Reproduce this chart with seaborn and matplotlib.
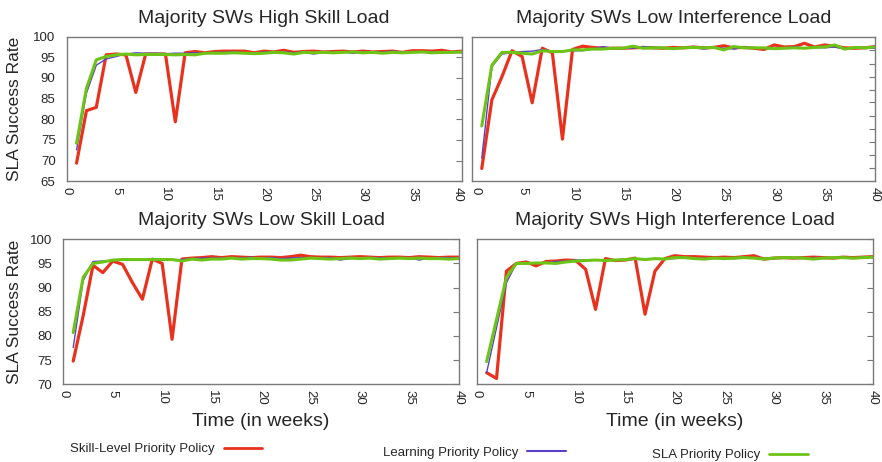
import numpy as np
import matplotlib
matplotlib.use("Agg")
import matplotlib.pyplot as plt
import matplotlib.transforms as mtransforms
import seaborn as sns
from matplotlib.lines import Line2D

# Weekly SLA success rate for the three policies in four load scenarios
weeks = list(range(1, 41))

titles = ['Majority SWs High Skill Load', 'Majority SWs Low Interference Load',
          'Majority SWs Low Skill Load', 'Majority SWs High Interference Load']
policies = ['Skill-Level Priority Policy', 'Learning Priority Policy', 'SLA Priority Policy']

high_skill_red = [69.4, 82.1, 82.9, 95.6, 95.8, 95.6, 86.5, 95.8, 95.8, 95.8,
                  79.4, 96.1, 96.4, 96.1, 96.4, 96.5, 96.5, 96.5, 96.1, 96.5,
                  96.3, 96.7, 96.2, 96.4, 96.5, 96.3, 96.4, 96.5, 96.3, 96.5,
                  96.3, 96.4, 96.5, 96.2, 96.6, 96.6, 96.5, 96.7, 96.3, 96.5]
high_skill_blue = [72.6, 86.3, 93.1, 94.6, 95.2, 95.8, 96.1, 96.0, 96.0, 95.9,
                   96.0, 96.0, 96.1, 96.0, 96.2, 96.2, 96.3, 96.1, 96.0, 96.3,
                   96.2, 96.3, 96.1, 96.3, 95.8, 96.2, 96.2, 96.3, 96.0, 96.3,
                   96.3, 96.2, 96.5, 96.2, 96.3, 96.2, 96.4, 96.0, 96.3, 96.1]
high_skill_green = [74.2, 87.5, 94.4, 95.2, 95.6, 95.8, 95.6, 95.7, 95.7, 95.7,
                    95.6, 95.7, 95.6, 96.0, 96.0, 96.0, 96.1, 96.0, 95.9, 96.0,
                    96.2, 96.1, 95.8, 96.2, 96.1, 96.2, 96.1, 96.2, 96.3, 96.1,
                    96.2, 96.0, 96.2, 96.1, 96.2, 96.3, 96.1, 96.2, 96.2, 96.3]

low_interf_red = [68.1, 84.7, 90.3, 96.6, 95.2, 84.0, 97.2, 96.1, 75.2, 96.9,
                  97.7, 97.4, 97.2, 97.2, 97.2, 97.3, 97.4, 97.3, 97.2, 97.4,
                  97.3, 97.5, 97.3, 97.4, 97.8, 97.3, 97.4, 97.2, 96.9, 98.0,
                  97.5, 97.6, 98.4, 97.5, 98.0, 97.7, 97.3, 97.2, 97.3, 97.6]
low_interf_blue = [70.6, 92.7, 95.8, 96.1, 96.4, 96.5, 96.9, 96.5, 96.5, 96.6,
                   96.6, 97.0, 97.6, 97.2, 97.2, 97.2, 97.6, 97.4, 97.3, 97.2,
                   97.3, 97.4, 97.0, 97.3, 97.2, 97.0, 97.5, 97.3, 97.2, 97.0,
                   97.2, 97.5, 97.3, 97.4, 97.3, 97.5, 97.0, 97.4, 97.2, 97.2]
low_interf_green = [78.4, 93.1, 96.2, 96.2, 96.0, 95.8, 96.6, 96.4, 96.4, 96.8,
                    96.8, 97.0, 97.0, 97.2, 97.2, 97.7, 97.2, 97.3, 97.3, 97.1,
                    97.3, 97.4, 97.3, 97.4, 96.8, 97.6, 97.3, 97.3, 97.3, 97.1,
                    97.2, 97.3, 97.2, 97.4, 97.5, 98.0, 97.0, 97.4, 97.3, 97.5]

low_skill_red = [74.8, 84.1, 94.6, 93.1, 95.5, 94.8, 91.0, 87.6, 95.9, 95.0,
                 79.3, 95.9, 96.1, 96.2, 96.4, 96.2, 96.4, 96.3, 96.2, 96.3,
                 96.3, 96.2, 96.4, 96.7, 96.4, 96.3, 96.3, 96.2, 96.3, 96.4,
                 96.3, 96.2, 96.3, 96.3, 96.2, 96.4, 96.3, 96.2, 96.3, 96.3]
low_skill_blue = [77.6, 91.4, 95.4, 95.5, 95.6, 95.9, 95.7, 95.7, 95.8, 95.9,
                  95.8, 95.8, 96.0, 96.1, 96.1, 96.1, 96.2, 96.1, 96.3, 96.0,
                  96.2, 96.0, 96.1, 96.2, 96.2, 96.1, 96.2, 95.7, 96.0, 96.2,
                  96.1, 96.2, 96.1, 96.2, 96.2, 95.7, 96.1, 96.2, 96.2, 96.1]
low_skill_green = [80.7, 92.1, 95.0, 95.3, 95.7, 95.8, 95.8, 95.8, 95.8, 95.8,
                   95.8, 95.5, 95.9, 95.7, 95.9, 95.9, 96.1, 95.9, 96.0, 96.0,
                   95.9, 95.7, 95.7, 95.9, 96.1, 96.0, 95.9, 96.0, 96.1, 96.0,
                   96.1, 95.9, 96.0, 96.1, 96.0, 96.1, 96.0, 96.0, 95.9, 96.0]

high_interf_red = [72.4, 71.2, 93.4, 95.0, 95.3, 94.5, 95.4, 95.5, 95.7, 95.6,
                   93.8, 85.5, 96.0, 95.6, 95.7, 96.1, 84.5, 93.4, 96.0, 96.6,
                   96.4, 96.4, 96.3, 96.2, 96.3, 96.2, 96.4, 96.6, 95.9, 96.1,
                   96.2, 96.1, 96.2, 96.3, 96.2, 96.1, 96.3, 96.2, 96.3, 96.4]
high_interf_blue = [72.4, 81.7, 91.0, 95.0, 95.0, 95.1, 95.1, 95.4, 95.5, 95.7,
                    95.7, 95.7, 95.7, 95.7, 95.7, 95.9, 95.8, 95.9, 95.9, 96.0,
                    96.2, 96.1, 96.0, 96.1, 96.1, 96.0, 96.2, 96.1, 96.0, 96.1,
                    96.2, 96.1, 96.2, 96.1, 96.2, 96.1, 96.2, 96.1, 96.3, 96.3]
high_interf_green = [74.7, 83.4, 92.1, 95.0, 95.0, 95.1, 95.1, 95.0, 95.3, 95.5,
                     95.6, 95.7, 95.6, 95.7, 95.8, 96.0, 95.8, 96.0, 95.9, 96.2,
                     96.2, 96.0, 95.9, 96.1, 96.0, 96.1, 96.2, 96.1, 95.9, 96.1,
                     96.2, 96.2, 96.1, 95.9, 96.1, 96.2, 96.2, 96.1, 96.2, 96.3]

panels = [
    (high_skill_red, high_skill_blue, high_skill_green),
    (low_interf_red, low_interf_blue, low_interf_green),
    (low_skill_red, low_skill_blue, low_skill_green),
    (high_interf_red, high_interf_blue, high_interf_green),
]

colors = ['#e8321e', '#5b3fc4', '#6cc417']
widths = [2.3, 1.0, 2.2]

sns.set_style('white')
plt.rcParams['font.family'] = ['Liberation Sans', 'DejaVu Sans']

fig = plt.figure(figsize=(8.82, 4.62), dpi=100)

# axes rectangles in figure fractions
rects = [
    [0.0756, 0.6076, 0.4478, 0.3130],
    [0.5348, 0.6076, 0.4573, 0.3130],
    [0.0718, 0.1682, 0.4483, 0.3139],
    [0.5405, 0.1682, 0.4490, 0.3139],
]

axes = []
for i, (rect, data) in enumerate(zip(rects, panels)):
    ax = fig.add_axes(rect)
    for k in range(3):
        sns.lineplot(x=weeks, y=data[k], ax=ax, color=colors[k],
                     linewidth=widths[k], legend=False)
    ax.set_xlim(0, 40)
    ax.set_xticks(range(0, 41, 5))
    ax.set_xticklabels([str(t) for t in range(0, 41, 5)], rotation=-90, fontsize=8)
    ax.set_title(titles[i], fontsize=14, pad=10)
    ax.tick_params(direction='in', length=4, color='#777777', right=True,
                   labelsize=9.5)
    ax.tick_params(axis='y', pad=8)
    ax.tick_params(axis='x', length=2, pad=4)
    for s in ax.spines.values():
        s.set_color('#7a7a7a')
        s.set_linewidth(1.0)
    axes.append(ax)

# nudge the touching "40" / "0" labels between the top panels apart
left_shift = mtransforms.ScaledTranslation(-3 / 72, 0, fig.dpi_scale_trans)
right_shift = mtransforms.ScaledTranslation(3 / 72, 0, fig.dpi_scale_trans)
last = axes[0].get_xticklabels()[-1]
last.set_transform(last.get_transform() + left_shift)
first = axes[1].get_xticklabels()[0]
first.set_transform(first.get_transform() + right_shift)

# y ranges / ticks
axes[0].set_ylim(65, 100)
axes[0].set_yticks(range(65, 101, 5))
axes[1].set_ylim(65, 100)
axes[1].set_yticks([68.1, 71.4, 74.6, 77.7, 80.9, 84.1, 87.2, 90.3, 93.5, 96.8])
axes[1].set_yticklabels([])
axes[2].set_ylim(70, 100)
axes[2].set_yticks(range(70, 101, 5))
axes[3].set_ylim(70, 100)
axes[3].set_yticks(range(70, 101, 5))
axes[3].set_yticklabels([])

for ax in (axes[0], axes[2]):
    ax.set_ylabel('SLA Success Rate', fontsize=12.5)
axes[0].yaxis.set_label_coords(-0.112, 0.5)
axes[2].yaxis.set_label_coords(-0.104, 0.5)

for ax in (axes[2], axes[3]):
    ax.set_xlabel('Time (in weeks)', fontsize=14, labelpad=6)

# legend entries spread along the bottom
legend_pos = [(0.079, 0.028), (0.434, 0.0195), (0.739, 0.015)]
for k, (px, py) in enumerate(legend_pos):
    h = Line2D([0], [0], color=colors[k], linewidth=2.0 if k != 1 else 1.5)
    fig.legend([h], [policies[k]], loc='center left', bbox_to_anchor=(px, py),
               frameon=False, markerfirst=False, fontsize=9.5, borderpad=0,
               borderaxespad=0, handlelength=2.9, handletextpad=0.7)

fig.savefig('out.png', dpi=100)
